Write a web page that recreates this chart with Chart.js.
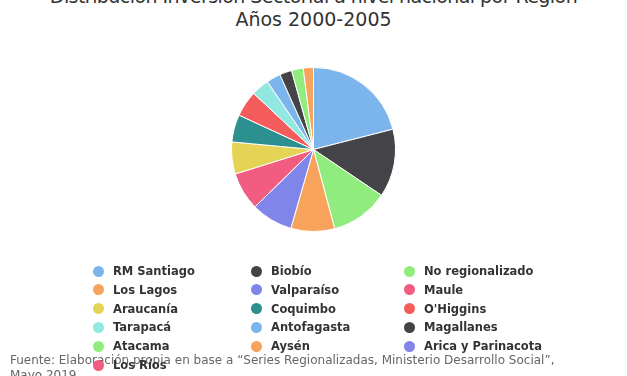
<!DOCTYPE html>
<html>
<head>
<meta charset="utf-8">
<script src="https://cdn.jsdelivr.net/npm/chart.js@4/dist/chart.umd.min.js"></script>
<style>
  body { margin: 0; background: #fff; }
  #wrap { position: relative; width: 627px; height: 376px; overflow: hidden; background: #fff; }
  #title { position: absolute; left: 0; width: 627px; top: -15px; text-align: center;
           font-family: "DejaVu Sans", sans-serif; font-size: 19px; line-height: 23px; color: #333; }
  #title .l1 { letter-spacing: -0.55px; }
  #pie { position: absolute; left: 0; top: 0; }
  #footer { position: absolute; left: 10px; top: 353px; font-family: "DejaVu Sans", sans-serif;
            font-size: 12px; line-height: 15px; color: #666; z-index: 1; white-space: nowrap; }
  #legend { position: absolute; left: 0; top: 0; width: 627px; height: 376px; z-index: 2; pointer-events: none; }
  .item { position: absolute; font-family: "DejaVu Sans", sans-serif; font-weight: bold; font-size: 11.5px;
          color: #333; white-space: nowrap; line-height: 14px; }
  .dot { position: absolute; width: 11px; height: 11px; border-radius: 50%; }
</style>
</head>
<body>
<div id="wrap">
  <div id="title"><span class="l1">Distribución Inversión Sectorial a nivel nacional por Región</span><br>Años 2000-2005</div>
  <canvas id="pie" width="627" height="376"></canvas>
  <div id="footer">Fuente: Elaboración propia en base a “Series Regionalizadas, Ministerio Desarrollo Social”,<br>Mayo 2019</div>
  <div id="legend"></div>
</div>
<script>
// regiones (orden de la leyenda y de la torta)
const regiones = ['RM Santiago', 'Biobío', 'No regionalizado', 'Los Lagos', 'Valparaíso', 'Maule',
  'Araucanía', 'Coquimbo', "O'Higgins", 'Tarapacá', 'Antofagasta', 'Magallanes',
  'Atacama', 'Aysén', 'Arica y Parinacota', 'Los Ríos'];

// participación (%)
const inversion = [21.0, 13.4, 11.4, 8.6, 8.2, 7.5, 6.3, 5.4, 5.1, 3.5, 2.8, 2.4, 2.3, 2.0, 0, 0];

const paleta = ['#7cb5ec', '#434348', '#90ed7d', '#f7a35c', '#8085e9', '#f15c80',
  '#e4d354', '#2b908f', '#f45b5b', '#91e8e1'];
const colores = regiones.map((r, i) => paleta[i % paleta.length]);

// leyenda en html, 3 columnas
const colX = [93, 251, 404];
const rowY = 264;
const rowH = 18.8;

const htmlLegend = {
  id: 'htmlLegend',
  afterUpdate(chart) {
    const box = document.getElementById('legend');
    box.innerHTML = '';
    const items = chart.options.plugins.legend.labels.generateLabels(chart);
    items.forEach((it, i) => {
      const col = i % 3;
      const row = Math.floor(i / 3);
      const el = document.createElement('div');
      el.className = 'item';
      el.style.left = colX[col] + 'px';
      el.style.top = (rowY + row * rowH) + 'px';
      const dot = document.createElement('span');
      dot.className = 'dot';
      dot.style.background = it.fillStyle;
      dot.style.left = '0px';
      dot.style.top = '1.5px';
      const txt = document.createElement('span');
      txt.style.marginLeft = '20px';
      txt.textContent = it.text;
      el.appendChild(dot);
      el.appendChild(txt);
      box.appendChild(el);
    });
  }
};

new Chart(document.getElementById('pie'), {
  type: 'pie',
  data: {
    labels: regiones,
    datasets: [{
      data: inversion,
      backgroundColor: colores,
      borderColor: '#ffffff',
      borderWidth: 1,
      hoverOffset: 0
    }]
  },
  options: {
    responsive: false,
    animation: false,
    layout: { padding: { top: 67, bottom: 144, left: 0, right: 0 } },
    plugins: {
      legend: { display: false },
      tooltip: { enabled: false }
    }
  },
  plugins: [htmlLegend]
});
</script>
</body>
</html>
